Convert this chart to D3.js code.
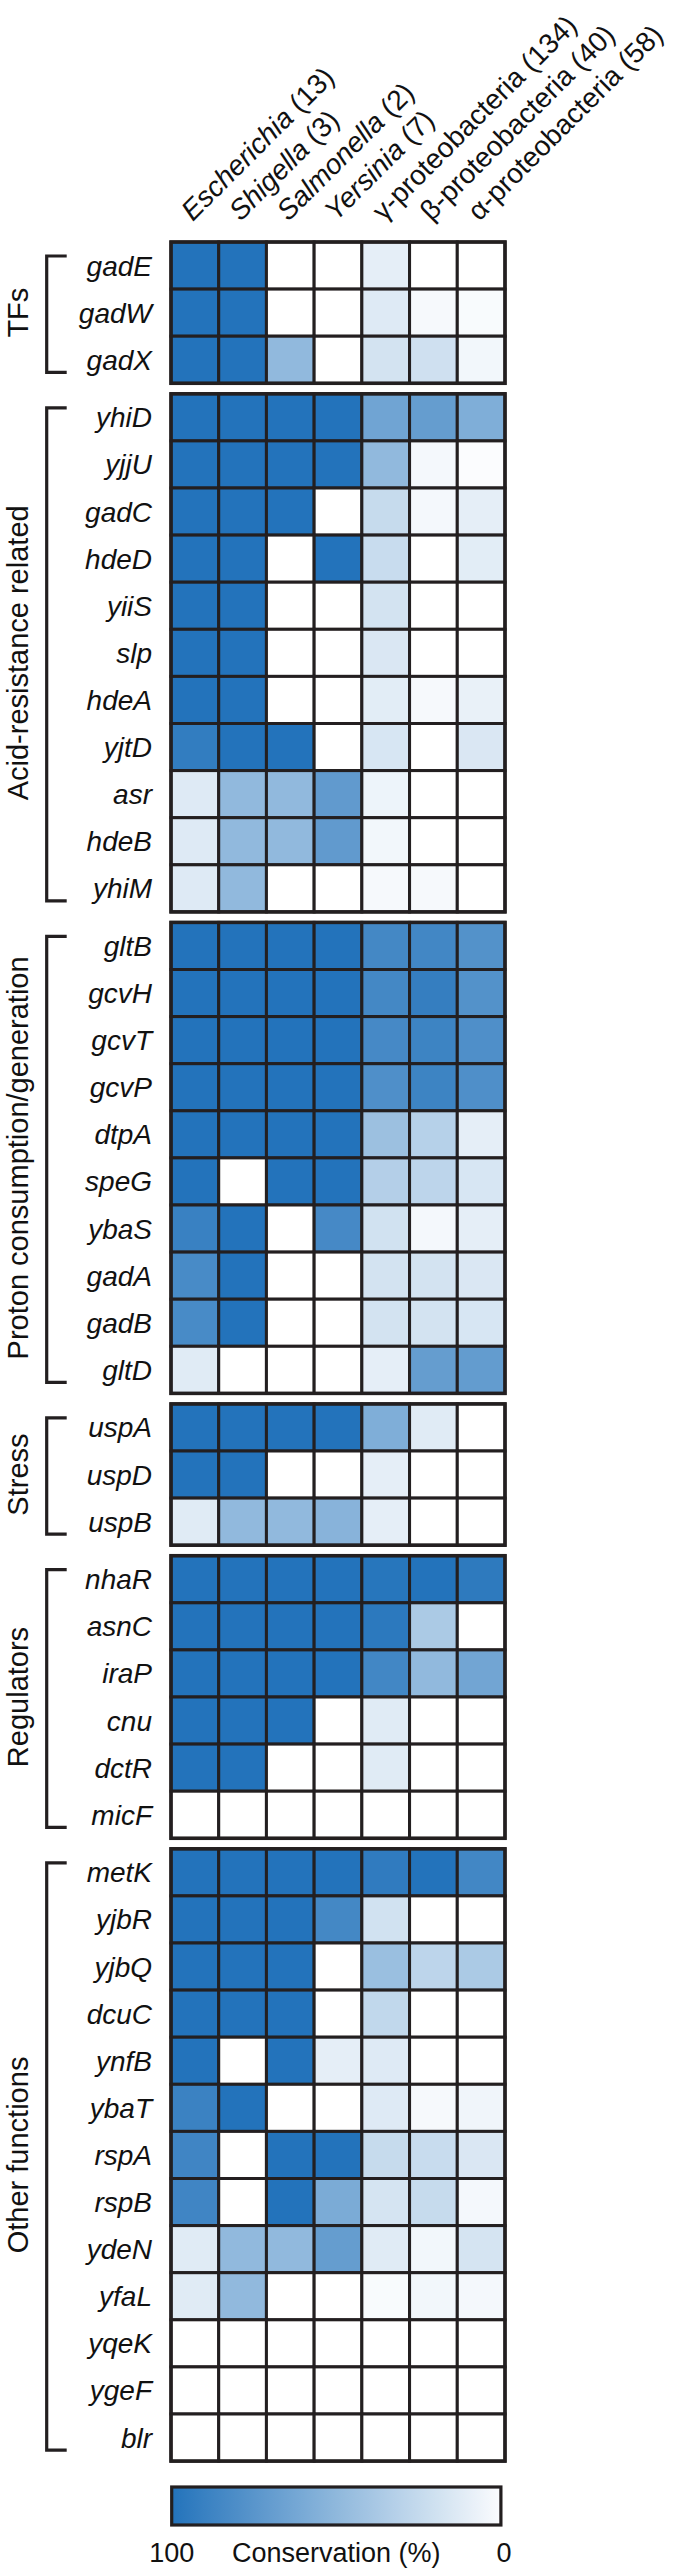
<!DOCTYPE html>
<html>
<head>
<meta charset="utf-8">
<script src="https://cdn.jsdelivr.net/npm/d3@7"></script>
<style>
  body { margin: 0; background: #fff; }
  text { font-family: "Liberation Sans", Arial, Helvetica, sans-serif; fill: #111; }
</style>
</head>
<body>
<svg id="chart"></svg>
<script>
// columns (genus / class, number of genomes)
var columns = ["Escherichia", "Shigella", "Salmonella", "Yersinia", "γ-proteobacteria", "β-proteobacteria", "α-proteobacteria"];
var columnNames = ["Escherichia", "Shigella", "Salmonella", "Yersinia", "γ-proteobacteria", "β-proteobacteria", "α-proteobacteria"];
var columnCounts = ["(13)", "(3)", "(2)", "(7)", "(134)", "(40)", "(58)"];
var columnItalic = [true, true, true, true, false, false, false];

// gene groups
var groupNames = ["TFs", "Acid-resistance related", "Proton consumption/generation", "Stress", "Regulators", "Other functions"];

var tfGenes = ["gadE", "gadW", "gadX"];
var tfValues = [
	[100, 100, 0, 0, 12, 0, 0],
	[100, 100, 0, 0, 15, 4, 3],
	[100, 100, 50, 0, 20, 22, 6]
];

var acidGenes = ["yhiD", "yjjU", "gadC", "hdeD", "yiiS", "slp", "hdeA", "yjtD", "asr", "hdeB", "yhiM"];
var acidValues = [
	[100, 100, 100, 100, 65, 70, 58],
	[100, 100, 100, 100, 50, 5, 2],
	[100, 100, 100, 0, 26, 5, 12],
	[100, 100, 0, 100, 25, 0, 13],
	[100, 100, 0, 0, 20, 0, 0],
	[100, 100, 0, 0, 17, 0, 0],
	[100, 100, 0, 0, 13, 4, 10],
	[93, 100, 100, 0, 18, 0, 17],
	[15, 50, 50, 72, 8, 0, 0],
	[15, 50, 50, 72, 6, 0, 0],
	[15, 50, 0, 0, 4, 4, 0]
];

var protonGenes = ["gltB", "gcvH", "gcvT", "gcvP", "dtpA", "speG", "ybaS", "gadA", "gadB", "gltD"];
var protonValues = [
	[100, 100, 100, 100, 85, 86, 78],
	[100, 100, 100, 100, 85, 92, 78],
	[100, 100, 100, 100, 84, 88, 80],
	[100, 100, 100, 100, 80, 88, 80],
	[100, 100, 100, 100, 45, 33, 12],
	[100, 0, 100, 100, 34, 30, 18],
	[90, 100, 0, 84, 21, 5, 12],
	[83, 100, 0, 0, 20, 20, 17],
	[83, 100, 0, 0, 20, 20, 18],
	[14, 0, 0, 0, 12, 70, 71]
];

var stressGenes = ["uspA", "uspD", "uspB"];
var stressValues = [
	[100, 100, 100, 100, 58, 14, 0],
	[100, 100, 0, 0, 12, 0, 0],
	[14, 50, 50, 54, 12, 0, 0]
];

var regGenes = ["nhaR", "asnC", "iraP", "cnu", "dctR", "micF"];
var regValues = [
	[100, 100, 100, 100, 98, 100, 95],
	[100, 100, 100, 100, 96, 38, 0],
	[100, 100, 100, 100, 86, 50, 64],
	[100, 100, 100, 0, 14, 0, 0],
	[100, 100, 0, 0, 14, 0, 0],
	[0, 0, 0, 0, 0, 0, 0]
];

var otherGenes = ["metK", "yjbR", "yjbQ", "dcuC", "ynfB", "ybaT", "rspA", "rspB", "ydeN", "yfaL", "yqeK", "ygeF", "blr"];
var otherValues = [
	[100, 100, 100, 100, 94, 100, 86],
	[100, 100, 100, 85, 21, 0, 0],
	[100, 100, 100, 0, 46, 30, 38],
	[100, 100, 100, 0, 28, 0, 0],
	[100, 0, 100, 12, 15, 0, 0],
	[89, 100, 0, 0, 15, 4, 7],
	[87, 0, 100, 100, 26, 25, 17],
	[87, 0, 100, 60, 19, 26, 5],
	[14, 50, 50, 70, 14, 6, 19],
	[14, 50, 0, 0, 3, 6, 5],
	[0, 0, 0, 0, 0, 0, 0],
	[0, 0, 0, 0, 0, 0, 0],
	[0, 0, 0, 0, 0, 0, 0]
];

var groupGenes = [tfGenes, acidGenes, protonGenes, stressGenes, regGenes, otherGenes];
var groupValues = [tfValues, acidValues, protonValues, stressValues, regValues, otherValues];

var legendTicks = [100, 0];
var legendTitle = "Conservation (%)";

// layout
var width = 685, height = 2569;
var gridLeft = 171, gridRight = 505, gridTop = 242;
var rowH = 47.1, gap = 10.5;
var lineColor = "#231f20";

var svg = d3.select("#chart")
	.attr("width", width)
	.attr("height", height);

var x = d3.scaleBand()
	.domain(columns)
	.range([gridLeft, gridRight]);

var color = d3.scaleLinear()
	.domain([0, 100])
	.range(["#ffffff", "#2373bb"]);

// column headers
var header = svg.append("g");
columns.forEach(function(c, i) {
	var cx = x(c) + x.bandwidth() / 2 - 2;
	var t = header.append("text")
		.attr("transform", "translate(" + cx + ",222) rotate(-45)")
		.attr("font-size", 28);
	t.append("tspan")
		.attr("font-style", columnItalic[i] ? "italic" : "normal")
		.text(columnNames[i]);
	t.append("tspan").text(" " + columnCounts[i]);
});

// blocks
var blockTop = gridTop;
groupNames.forEach(function(name, g) {
	var genes = groupGenes[g];
	var vals = groupValues[g];
	var blockH = genes.length * rowH;
	var y = d3.scaleBand()
		.domain(genes)
		.range([blockTop, blockTop + blockH]);

	var block = svg.append("g");

	genes.forEach(function(gene, r) {
		block.selectAll(null)
			.data(vals[r])
			.enter()
			.append("rect")
			.attr("x", function(d, i) { return x(columns[i]); })
			.attr("y", y(gene))
			.attr("width", x.bandwidth())
			.attr("height", y.bandwidth())
			.attr("fill", function(d) { return color(d); })
			.attr("stroke", lineColor)
			.attr("stroke-width", 3);

		block.append("text")
			.attr("x", 152)
			.attr("y", y(gene) + y.bandwidth() / 2 + 10)
			.attr("text-anchor", "end")
			.attr("font-size", 28)
			.attr("font-style", "italic")
			.text(gene);
	});

	block.append("rect")
		.attr("x", gridLeft)
		.attr("y", blockTop)
		.attr("width", gridRight - gridLeft)
		.attr("height", blockH)
		.attr("fill", "none")
		.attr("stroke", lineColor)
		.attr("stroke-width", 3.5);

	// bracket
	var b0 = blockTop + 14, b1 = blockTop + blockH - 11;
	block.append("path")
		.attr("d", "M66.7," + b0 + "H46.7V" + b1 + "H66.7")
		.attr("fill", "none")
		.attr("stroke", lineColor)
		.attr("stroke-width", 3.2);

	// group label
	block.append("text")
		.attr("transform", "translate(28," + (blockTop + blockH / 2) + ") rotate(-90)")
		.attr("text-anchor", "middle")
		.attr("font-size", 29)
		.text(name);

	blockTop += blockH + gap;
});

// colour bar
var legendX = d3.scaleLinear()
	.domain([100, 0])
	.range([171.7, 500.9]);

var grad = svg.append("defs").append("linearGradient")
	.attr("id", "cbar")
	.attr("x1", "0%").attr("x2", "100%");
d3.range(0, 101, 10).forEach(function(p) {
	grad.append("stop")
		.attr("offset", p + "%")
		.attr("stop-color", color(100 - p * 0.98));
});

svg.append("rect")
	.attr("x", legendX(100))
	.attr("y", 2487)
	.attr("width", legendX(0) - legendX(100))
	.attr("height", 38)
	.attr("fill", "url(#cbar)")
	.attr("stroke", lineColor)
	.attr("stroke-width", 3.2);

svg.selectAll(".ltick")
	.data(legendTicks)
	.enter()
	.append("text")
	.attr("x", function(d) { return legendX(d) + (d === 0 ? 3 : 0); })
	.attr("y", 2562)
	.attr("text-anchor", "middle")
	.attr("font-size", 27)
	.text(function(d) { return d; });

svg.append("text")
	.attr("x", (legendX(100) + legendX(0)) / 2)
	.attr("y", 2562)
	.attr("text-anchor", "middle")
	.attr("font-size", 27)
	.text(legendTitle);
</script>
</body>
</html>
